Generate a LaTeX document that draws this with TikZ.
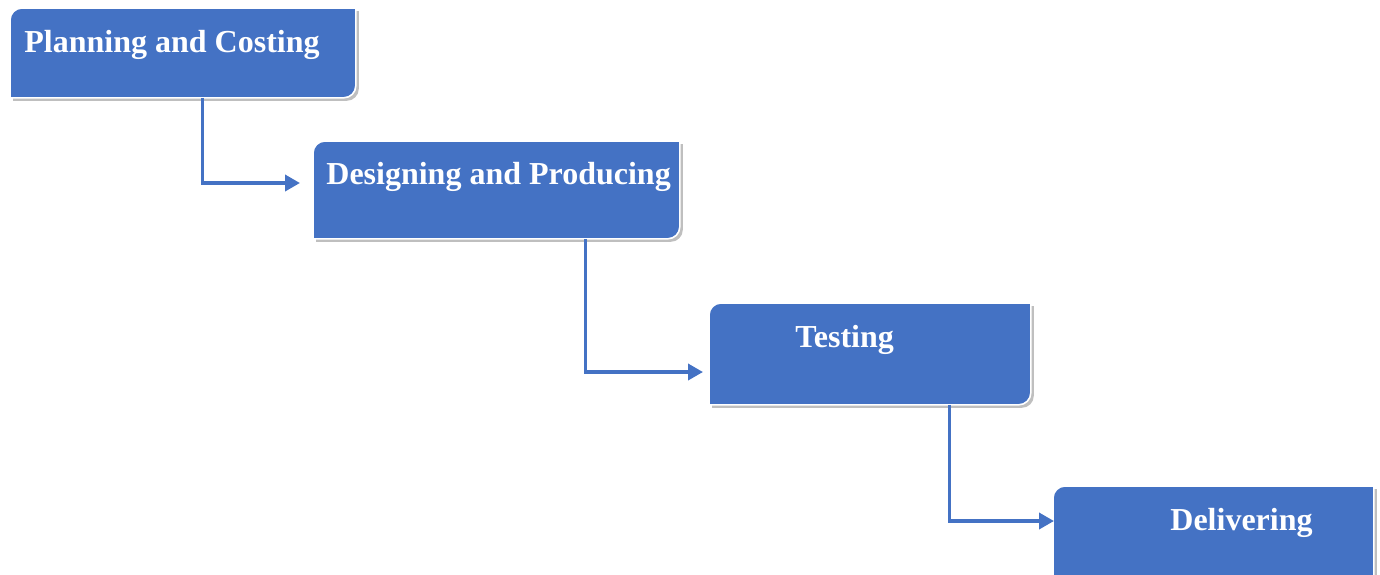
\documentclass[tikz,border=0pt]{standalone}
\usepackage{fontspec}
\setmainfont{Liberation Serif}
\usetikzlibrary{arrows.meta,shadows}
\definecolor{phaseblue}{RGB}{68,114,196}

\begin{document}
\begin{tikzpicture}[x=0.5pt,y=-0.5pt,>={Triangle[length=7.5pt,width=8pt]}]
		\tikzstyle{every node}=[inner sep=0pt]
		\tikzstyle{phase}=[anchor=north west, draw=none]
		\tikzstyle{phasetext}=[anchor=base west, text=white, font=\fontsize{16}{19}\selectfont\bfseries]
		\tikzstyle{boxline}=[fill=phaseblue, draw=white, line width=0.8pt,
			drop shadow={shadow xshift=1.5pt, shadow yshift=-1.5pt, opacity=0.5}]
		\tikzstyle{flow}=[->, draw=phaseblue, line width=1.8pt]

		\useasboundingbox (0,0) rectangle (1380,574);

		\node[phase, minimum width=172.5pt, minimum height=44.5pt] (plan) at (10, 8) {};
		\node[phase, minimum width=183pt, minimum height=48.5pt] (design) at (313, 141) {};
		\node[phase, minimum width=160.5pt, minimum height=50.5pt] (test) at (709, 303) {};
		\node[phase, minimum width=160pt, minimum height=60pt] (deliver) at (1053, 486) {};

		% boxes: rounded top left and bottom right
		\foreach \n in {plan, design, test, deliver}
			\path[boxline] (\n.south west) -- ([yshift=-6pt]\n.north west)
				arc[start angle=180, end angle=90, radius=6pt] -- (\n.north east)
				-- ([yshift=6pt]\n.south east)
				arc[start angle=0, end angle=-90, radius=6pt] -- cycle;

		\node[phasetext] (plan text) at (24, 52) {Planning and Costing};
		\node[phasetext] (design text) at (326, 184) {Designing and Producing};
		\node[phasetext] (test text) at (795, 347) {Testing};
		\node[phasetext] (deliver text) at (1170, 530) {Delivering};

		\coordinate (design in) at (300, 183);
		\coordinate (test in) at (703, 372);
		\coordinate (deliver in) at (1054, 521);

		\draw[flow] ([xshift=9.75pt]plan.south) |- (design in);
		\draw[flow] ([xshift=44.5pt]design.south) |- (test in);
		\draw[flow] ([xshift=39.75pt]test.south) |- (deliver in);
	\end{tikzpicture}
\end{document}
